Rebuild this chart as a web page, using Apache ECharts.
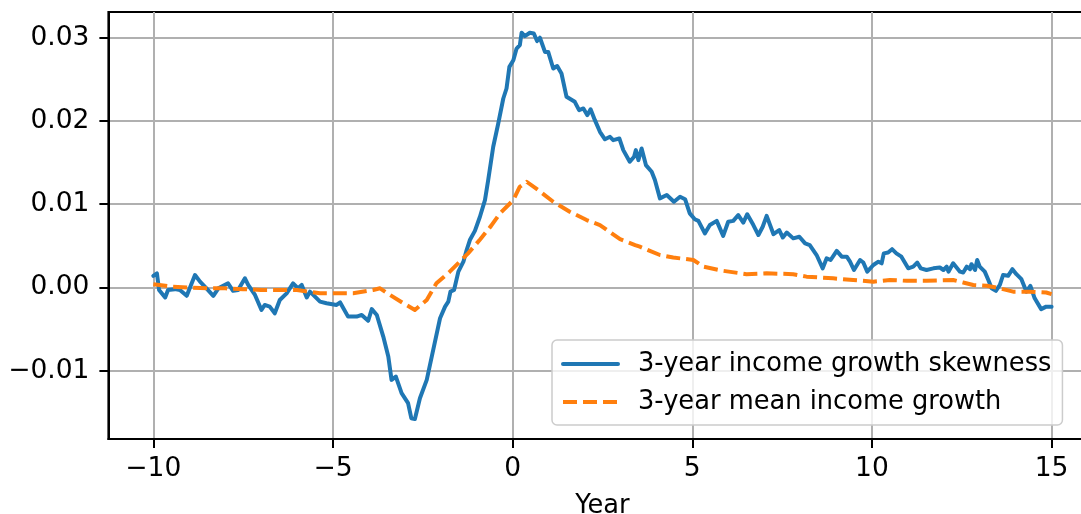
<!DOCTYPE html>
<html>
<head>
<meta charset="utf-8">
<script src="https://cdn.jsdelivr.net/npm/echarts@6/dist/echarts.min.js"></script>
<style>
html,body{margin:0;padding:0;background:#fff;}
#c{width:1081px;height:514px;}
</style>
</head>
<body>
<div id="c"></div>
<script>
// Data
const seriesNames = ['3-year income growth skewness', '3-year mean income growth'];
const xTicks = [-10, -5, 0, 5, 10, 15];
const yTicks = [-0.01, 0, 0.01, 0.02, 0.03];

const skewX = [-10.00,-9.90,-9.84,-9.67,-9.59,-9.40,-9.26,-9.07,-8.84,-8.70,-8.52,-8.33,-8.19,-7.92,-7.78,-7.64,-7.45,-7.36,-7.17,-6.99,-6.90,-6.76,-6.62,-6.48,-6.29,-6.11,-5.97,-5.87,-5.73,-5.64,-5.36,-5.18,-4.90,-4.80,-4.58,-4.34,-4.20,-4.02,-3.92,-3.78,-3.60,-3.46,-3.37,-3.25,-3.09,-2.91,-2.82,-2.72,-2.58,-2.39,-2.21,-2.02,-1.88,-1.79,-1.73,-1.63,-1.51,-1.37,-1.28,-1.19,-1.05,-0.91,-0.77,-0.68,-0.54,-0.40,-0.26,-0.17,-0.09,0.02,0.11,0.20,0.25,0.34,0.48,0.59,0.68,0.76,0.90,0.99,1.13,1.24,1.36,1.50,1.73,1.85,1.97,2.08,2.17,2.29,2.43,2.57,2.71,2.80,2.97,3.08,3.26,3.38,3.43,3.50,3.59,3.71,3.87,3.96,4.10,4.29,4.49,4.66,4.80,4.93,5.07,5.17,5.35,5.49,5.68,5.86,6.00,6.14,6.28,6.42,6.53,6.70,6.84,6.96,7.07,7.26,7.42,7.52,7.63,7.81,7.98,8.14,8.27,8.46,8.63,8.74,8.85,9.02,9.16,9.30,9.39,9.50,9.67,9.76,9.87,10.04,10.18,10.27,10.33,10.45,10.56,10.68,10.82,11.01,11.15,11.26,11.36,11.52,11.71,11.89,11.99,12.08,12.13,12.26,12.45,12.54,12.64,12.73,12.77,12.87,12.93,13.00,13.14,13.24,13.33,13.45,13.56,13.65,13.79,13.91,14.02,14.16,14.30,14.41,14.53,14.71,14.85,15.00];
const skewY = [0.0014,0.0017,-0.0003,-0.0012,-0.0003,-0.0002,-0.0003,-0.0010,0.0015,0.0007,-0.0001,-0.0010,-0.0001,0.0005,-0.0004,-0.0003,0.0011,0.0003,-0.0009,-0.0027,-0.0021,-0.0023,-0.0031,-0.0015,-0.0007,0.0005,-0.0001,0.0003,-0.0012,-0.0005,-0.0017,-0.0019,-0.0021,-0.0018,-0.0035,-0.0035,-0.0033,-0.0040,-0.0026,-0.0033,-0.0059,-0.0083,-0.0111,-0.0107,-0.0127,-0.0139,-0.0157,-0.0158,-0.0133,-0.0111,-0.0075,-0.0037,-0.0023,-0.0017,-0.0005,-0.0003,0.0019,0.0031,0.0045,0.0057,0.0068,0.0085,0.0105,0.0129,0.0169,0.0197,0.0227,0.0239,0.0265,0.0273,0.0287,0.0291,0.0306,0.0302,0.0306,0.0305,0.0296,0.0300,0.0283,0.0283,0.0263,0.0266,0.0257,0.0229,0.0223,0.0213,0.0215,0.0207,0.0214,0.0201,0.0187,0.0178,0.0181,0.0177,0.0179,0.0165,0.0151,0.0157,0.0165,0.0153,0.0167,0.0147,0.0139,0.0129,0.0107,0.0111,0.0103,0.0109,0.0106,0.0089,0.0082,0.0080,0.0065,0.0075,0.0080,0.0062,0.0079,0.0080,0.0087,0.0078,0.0088,0.0075,0.0063,0.0073,0.0086,0.0064,0.0069,0.0060,0.0066,0.0059,0.0061,0.0053,0.0051,0.0039,0.0023,0.0035,0.0033,0.0044,0.0037,0.0037,0.0031,0.0021,0.0033,0.0030,0.0019,0.0027,0.0031,0.0029,0.0041,0.0042,0.0046,0.0041,0.0037,0.0023,0.0025,0.0030,0.0023,0.0021,0.0023,0.0024,0.0021,0.0025,0.0019,0.0029,0.0019,0.0018,0.0025,0.0022,0.0028,0.0021,0.0033,0.0025,0.0019,0.0009,-0.0001,-0.0004,0.0003,0.0015,0.0014,0.0022,0.0016,0.0010,-0.0005,0.0002,-0.0013,-0.0026,-0.0023,-0.0023];

const meanX = [-10.00,-9.5,-9.0,-8.5,-8.0,-7.5,-7.0,-6.5,-6.0,-5.7,-5.36,-5.0,-4.44,-3.88,-3.69,-3.41,-3.04,-2.72,-2.39,-2.12,-1.75,-1.47,-1.24,-0.90,-0.60,-0.35,0.02,0.20,0.39,0.71,1.13,1.59,2.06,2.43,2.99,3.41,3.54,4.10,4.47,5.03,5.31,5.86,6.51,7.07,7.81,8.18,8.92,9.48,10.04,10.50,10.97,11.52,12.26,12.54,12.82,13.19,13.56,13.93,14.40,14.85,15.00];
const meanY = [0.0004,0.0001,0.0000,-0.0001,-0.0001,-0.0002,-0.0003,-0.0003,-0.0003,-0.0005,-0.0007,-0.0007,-0.0007,-0.0003,-0.0001,-0.0009,-0.0019,-0.0027,-0.0015,0.0005,0.0019,0.0031,0.0041,0.0058,0.0074,0.0089,0.0105,0.0121,0.0127,0.0117,0.0103,0.0091,0.0081,0.0075,0.0058,0.0051,0.0049,0.0039,0.0036,0.0033,0.0025,0.0020,0.0016,0.0017,0.0016,0.0013,0.0011,0.0009,0.0007,0.0009,0.0008,0.0008,0.0009,0.0006,0.0003,0.0002,-0.0001,-0.0005,-0.0005,-0.0006,-0.0008];

const skewData = skewX.map((x, i) => [x, skewY[i]]);
const meanData = meanX.map((x, i) => [x, meanY[i]]);

const FONT = 'DejaVu Sans';
const FS = 26.5;
const FSL = 25.7;
const LW = 4;
const minus = s => s.replace('-', '\u2212');

const chart = echarts.init(document.getElementById('c'), null, {renderer: 'canvas'});
chart.setOption({
  animation: false,
  backgroundColor: '#ffffff',
  textStyle: {fontFamily: FONT},
  grid: {
    left: 108.4, top: 12, right: -15.5, bottom: 75,
    show: true, borderColor: '#000', borderWidth: 2, backgroundColor: 'transparent',
    containLabel: false, outerBoundsMode: 'none'
  },
  xAxis: {
    type: 'value', min: -11.25, max: 16.25,
    name: 'Year', nameLocation: 'middle', nameGap: 54,
    nameTextStyle: {fontFamily: FONT, fontSize: FSL, color: '#000'},
    axisLine: {show: true, onZero: false, lineStyle: {color: '#000', width: 2}},
    axisTick: {show: true, inside: false, length: 9, lineStyle: {color: '#000', width: 2}, customValues: xTicks},
    axisLabel: {show: true, margin: 17, fontFamily: FONT, fontSize: FS, color: '#000', customValues: xTicks,
      formatter: v => minus(String(v))},
    splitLine: {show: true, lineStyle: {color: '#b0b0b0', width: 2}}
  },
  yAxis: {
    type: 'value', min: -0.0182, max: 0.03309,
    axisLine: {show: true, onZero: false, lineStyle: {color: '#000', width: 2}},
    axisTick: {show: true, inside: false, length: 9, lineStyle: {color: '#000', width: 2}, customValues: yTicks},
    axisLabel: {show: true, margin: 19, fontFamily: FONT, fontSize: FS, color: '#000', customValues: yTicks,
      formatter: v => minus(Number(v).toFixed(2))},
    splitLine: {show: true, lineStyle: {color: '#b0b0b0', width: 2}}
  },
  legend: {
    show: true, orient: 'vertical', left: 552, top: 340,
    data: seriesNames,
    backgroundColor: 'rgba(255,255,255,0.8)', borderColor: '#cccccc', borderWidth: 1.5, borderRadius: 5,
    padding: [11, 11, 10, 9],
    itemWidth: 55, itemHeight: 26, itemGap: 12,
    itemStyle: {color: 'rgba(0,0,0,0)', borderWidth: 0, opacity: 0},
    lineStyle: {width: LW},
    textStyle: {fontFamily: FONT, fontSize: FSL, color: '#000', lineHeight: 26, padding: [0, 0, 0, 15]},
    selectedMode: false
  },
  series: [
    {
      name: seriesNames[0], type: 'line', data: skewData,
      showSymbol: false, symbol: 'none', smooth: false,
      lineStyle: {color: '#1f77b4', width: LW, join: 'round', cap: 'round'},
      itemStyle: {color: '#1f77b4'}, z: 3
    },
    {
      name: seriesNames[1], type: 'line', data: meanData,
      showSymbol: false, symbol: 'none', smooth: false,
      lineStyle: {color: '#ff7f0e', width: LW, type: [14, 6], join: 'round'},
      itemStyle: {color: '#ff7f0e'}, z: 4
    }
  ]
});
</script>
</body>
</html>
